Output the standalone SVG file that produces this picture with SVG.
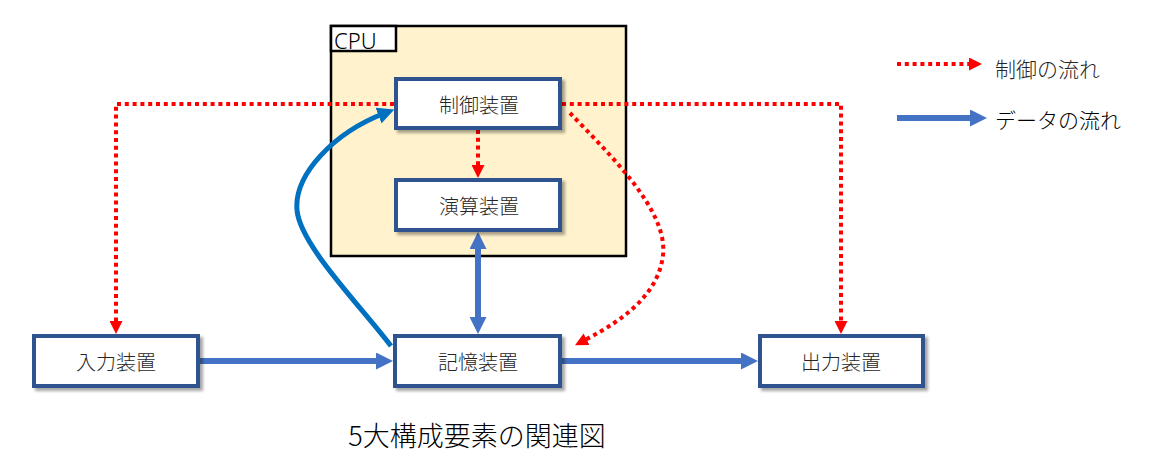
<svg xmlns="http://www.w3.org/2000/svg" width="1156" height="472" viewBox="0 0 1156 472">
<defs>
<style>
.lbl{font-family:"Noto Sans CJK JP","Noto Sans",sans-serif;font-size:20px;font-weight:300;fill:#262626;text-anchor:middle;dominant-baseline:central}
.box{fill:#fff;stroke:#2F528F;stroke-width:4}
.red{fill:none;stroke:#FF0000;stroke-width:4;stroke-dasharray:4 3.8}
.blue{fill:none;stroke:#4472C4;stroke-width:6}
.blue2{fill:none;stroke:#0070C0;stroke-width:5}
</style>
<filter id="sh" x="-10%" y="-20%" width="130%" height="150%">
<feDropShadow dx="3" dy="3" stdDeviation="1.5" flood-color="#000" flood-opacity="0.35"/>
</filter>
<marker id="ra" markerUnits="userSpaceOnUse" markerWidth="13" markerHeight="13" refX="4" refY="6.5" orient="auto"><path d="M0,0 L13,6.5 L0,13 z" fill="#FF0000"/></marker>
<marker id="ba" markerUnits="userSpaceOnUse" markerWidth="17" markerHeight="17" refX="5" refY="8.5" orient="auto-start-reverse"><path d="M0,0 L17,8.5 L0,17 z" fill="#4472C4"/></marker>
<marker id="bb" markerUnits="userSpaceOnUse" markerWidth="17" markerHeight="17" refX="7" refY="8.5" orient="auto"><path d="M0,0 L17,8.5 L0,17 z" fill="#0070C0"/></marker>
</defs>
<rect width="1156" height="472" fill="#fff"/>
<g id="cpu">
<rect x="331" y="26" width="295" height="230" fill="#FFF2CC" stroke="#000" stroke-width="2.5"/>
<rect x="331" y="26" width="65" height="25" fill="#fff" stroke="#000" stroke-width="2.5"/>
<text x="334" y="39.5" style="font-family:'Noto Sans','Liberation Sans',sans-serif;font-size:22px;font-weight:300;fill:#000;dominant-baseline:central">CPU</text>
</g>
<g id="connectors">
<path class="red" d="M394 104 H116 V325" marker-end="url(#ra)"/>
<path class="red" d="M562 104 H841 V325" marker-end="url(#ra)"/>
<path class="red" d="M478 130 V169" marker-end="url(#ra)"/>
<path class="red" d="M570 113 C610 155 668 210 663 255 C658 300 612 326 583 341" marker-end="url(#ra)"/>
<path class="blue" d="M200 361 H381" marker-end="url(#ba)"/>
<path class="blue" d="M562 361 H746" marker-end="url(#ba)"/>
<path class="blue" d="M478 244 V322" marker-start="url(#ba)" marker-end="url(#ba)"/>
<path class="blue2" d="M391 346 C360 305 300 245 297 210 C294 175 333 133 385 113" marker-end="url(#bb)"/>
</g>
<g id="seigyo"><rect class="box" x="396" y="79" width="164" height="49" filter="url(#sh)"/><text class="lbl" x="479" y="104">制御装置</text></g>
<g id="enzan"><rect class="box" x="396" y="180" width="164" height="50" filter="url(#sh)"/><text class="lbl" x="479" y="205">演算装置</text></g>
<g id="kioku"><rect class="box" x="395" y="336" width="165" height="50" filter="url(#sh)"/><text class="lbl" x="478" y="361">記憶装置</text></g>
<g id="nyuryoku"><rect class="box" x="34" y="336" width="164" height="50" filter="url(#sh)"/><text class="lbl" x="116" y="361">入力装置</text></g>
<g id="shutsuryoku"><rect class="box" x="760" y="336" width="163" height="50" filter="url(#sh)"/><text class="lbl" x="841" y="361">出力装置</text></g>
<g id="legend">
<path class="red" d="M897 64 H973" marker-end="url(#ra)"/>
<text class="lbl" x="995" y="68" style="text-anchor:start;font-size:21px">制御の流れ</text>
<path class="blue" d="M897 118 H975" marker-end="url(#ba)"/>
<text class="lbl" x="995" y="119" style="text-anchor:start;font-size:21px;fill:#000">データの流れ</text>
</g>
<g id="title"><text x="477" y="434" style="font-family:'Noto Sans CJK JP',sans-serif;font-size:27px;font-weight:300;fill:#000;text-anchor:middle;dominant-baseline:central">5大構成要素の関連図</text></g>
</svg>
